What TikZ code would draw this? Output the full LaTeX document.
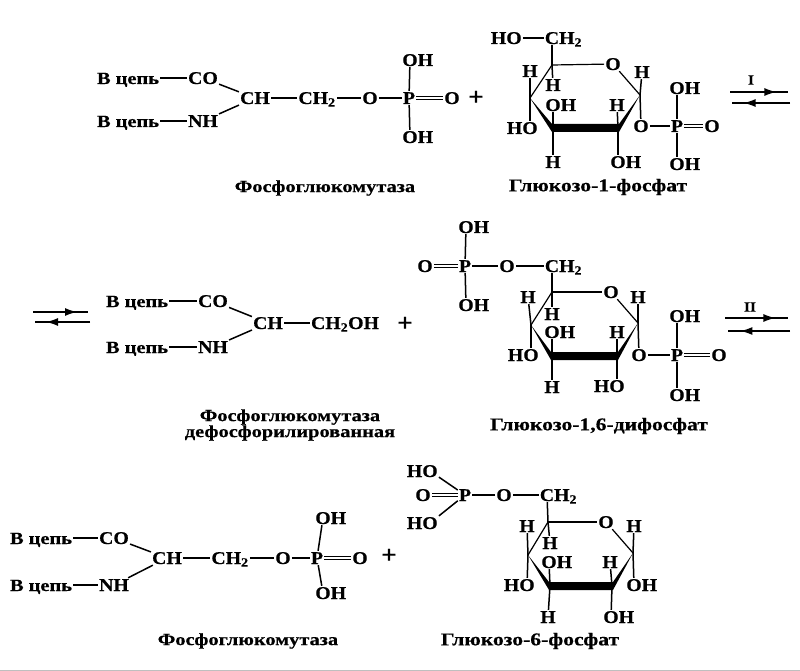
\documentclass[tikz,border=0pt]{standalone}
\usepackage{fontspec}
\setmainfont[BoldFeatures={FakeBold=0.5,FakeStretch=1.1}]{Liberation Serif}
\newfontfamily\labelfont[BoldFeatures={FakeBold=0.5,FakeStretch=1.2}]{Liberation Serif}
\usepackage{tikz}
\usetikzlibrary{calc,arrows.meta,decorations.markings}

\begin{document}
\begin{tikzpicture}[
			x=1pt, y=-1pt,
			atom/.style={font=\fontsize{18}{20}\selectfont\bfseries, inner sep=1pt, text height=12pt, text depth=0pt},
			chain/.style={font=\fontsize{17}{19}\labelfont\bfseries, inner sep=1pt, text height=12pt, text depth=0pt},
			caption/.style={font=\fontsize{17}{17}\labelfont\bfseries, inner sep=0pt, align=center},
			sugar name/.style={font=\fontsize{18}{18}\labelfont\bfseries, inner sep=0pt},
			sign/.style={font=\fontsize{25}{26}\selectfont\bfseries, inner sep=0pt},
			mark label/.style={font=\fontsize{14}{15}\selectfont\bfseries, inner sep=0pt},
			bond/.style={line width=1.5pt},
			dbond/.style={double, double distance=1.5pt, line width=1.1pt},
			ringbond/.style={line width=1.2pt},
			wedge/.style={fill=black},
			eqarrow/.style={line width=1.3pt, postaction={decorate},
				decoration={markings, mark=at position #1 with {\arrow{Latex[length=12pt,width=8pt]}}}},
		]
		\useasboundingbox (0,0) rectangle (800,671);
		\draw[gray!50] (0,670) -- (800,670);

		%Row 1 nodes
		\node[chain] (aS1) at (128,78) {В цепь};
		\node[chain] (aS2) at (128,121) {В цепь};
		\node[atom] (aCO) at (203,78) {CO};
		\node[atom] (aNH) at (203,121) {NH};
		\node[atom] (aCH) at (255,98) {CH};
		\node[atom] (aCH2) at (317,98) {CH\textsubscript{2}};
		\node[atom] (aO) at (370,98) {O};
		\node[atom] (aP) at (409,98) {P};
		\node[atom] (aO2) at (452,98) {O};
		\node[atom] (aOH1) at (410,60) {O\rlap{H}};
		\node[atom] (aOH2) at (410,137) {O\rlap{H}};
		\node[sign] (aplus) at (476,98) {+};
		\node[caption] (aname) at (325,188) {Фосфоглюкомутаза};

		\coordinate (r1) at (552,65);
		\coordinate (r2) at (640,95);
		\coordinate (r3) at (618,128);
		\coordinate (r4) at (553,128);
		\coordinate (r5) at (530,98);
		\node[atom] (rO) at (613,64) {O};
		\node[atom] (rC) at (552,38) {C\rlap{H\textsubscript{2}}};
		\node[atom] (rHO) at (514,38) {\llap{H}O};
		\node[atom] (rH1) at (530,71) {H};
		\node[atom] (rH2) at (553,85) {H};
		\node[atom] (rOH1) at (553,105) {O\rlap{H}};
		\node[atom] (rHO1) at (530,128) {\llap{H}O};
		\node[atom] (rH3) at (617,105) {H};
		\node[atom] (rH4) at (553,162) {H};
		\node[atom] (rOH2) at (618,162) {O\rlap{H}};
		\node[atom] (rH5) at (642,72) {H};
		\node[atom] (rO1) at (641,126) {O};
		\node[atom] (rP) at (677,126) {P};
		\node[atom] (rO2) at (712,126) {O};
		\node[atom] (rOH3) at (677,88) {O\rlap{H}};
		\node[atom] (rOH4) at (677,164) {O\rlap{H}};
		\node[sugar name] (rname) at (598,187) {Глюкозо-1-фосфат};

		\node[mark label] (eq1) at (751,80) {I};
		\coordinate (eq1a) at (730,92);
		\coordinate (eq1b) at (788,92);
		\coordinate (eq1c) at (790,103);
		\coordinate (eq1d) at (732,103);

		%Row 1 lines
		\draw[bond] (aS1) -- (aCO);
		\draw[bond] (aS2) -- (aNH);
		\draw[bond] (aCO) -- (aCH);
		\draw[bond] (aNH) -- (aCH);
		\draw[bond] (aCH) -- (aCH2);
		\draw[bond] (aCH2) -- (aO);
		\draw[bond] (aO) -- (aP);
		\draw[dbond] (aP) -- (aO2);
		\draw[bond] (aP) -- (aOH1);
		\draw[bond] (aP) -- (aOH2);

		\draw[ringbond] (r1) -- (rO);
		\draw[ringbond] (rO) -- (r2);
		\draw[ringbond] (r1) -- (r5);
		\fill[wedge] (r5) -- ($(r4)+(-1,4)$) -- ($(r3)+(1,4)$) -- (r2) -- ($(r3)+(1,-4)$) -- ($(r4)+(-1,-4)$) -- cycle;
		\draw[bond] (rHO) -- (rC);
		\draw[bond] (rC) -- (r1);
		\draw[bond] (r5) -- (rH1);
		\draw[bond] (r1) -- (rH2);
		\draw[bond] (r4) -- (rOH1);
		\draw[bond] (r5) -- (rHO1);
		\draw[bond] (r3) -- (rH3);
		\draw[bond] (r4) -- (rH4);
		\draw[bond] (r3) -- (rOH2);
		\draw[bond] (r2) -- (rH5);
		\draw[bond] (r2) -- (rO1);
		\draw[bond] (rO1) -- (rP);
		\draw[dbond] (rP) -- (rO2);
		\draw[bond] (rP) -- (rOH3);
		\draw[bond] (rP) -- (rOH4);
		\draw[eqarrow=.8] (eq1a) -- (eq1b);
		\draw[eqarrow=.8] (eq1c) -- (eq1d);

		%Row 2 nodes
		\coordinate (eq2a) at (33,312);
		\coordinate (eq2b) at (88,312);
		\coordinate (eq2c) at (90,322);
		\coordinate (eq2d) at (35,322);
		\node[chain] (bS1) at (137,301) {В цепь};
		\node[chain] (bS2) at (137,347) {В цепь};
		\node[atom] (bCO) at (213,301) {CO};
		\node[atom] (bNH) at (213,347) {NH};
		\node[atom] (bCH) at (268,323) {CH};
		\node[atom] (bOH) at (345,323) {CH\textsubscript{2}OH};
		\node[sign] (bplus) at (405,324) {+};
		\node[caption] (bname) at (290,425) {Фосфоглюкомутаза\\[-1pt]дефосфорилированная};

		\coordinate (s1) at (552,292);
		\coordinate (s2) at (638,323);
		\coordinate (s3) at (617,356);
		\coordinate (s4) at (552,356);
		\coordinate (s5) at (531,325);
		\node[atom] (sO) at (611,292) {O};
		\node[atom] (sC) at (552,266) {C\rlap{H\textsubscript{2}}};
		\node[atom] (sO3) at (507,266) {O};
		\node[atom] (sP) at (465,266) {P};
		\node[atom] (sO4) at (425,266) {O};
		\node[atom] (sOH5) at (466,227) {O\rlap{H}};
		\node[atom] (sOH6) at (466,305) {O\rlap{H}};
		\node[atom] (sH1) at (528,297) {H};
		\node[atom] (sH2) at (552,314) {H};
		\node[atom] (sOH1) at (552,332) {O\rlap{H}};
		\node[atom] (sHO1) at (531,355) {\llap{H}O};
		\node[atom] (sH3) at (617,332) {H};
		\node[atom] (sH4) at (552,387) {H};
		\node[atom] (sOH2) at (617,386) {\llap{H}O};
		\node[atom] (sH5) at (638,297) {H};
		\node[atom] (sO1) at (639,355) {O};
		\node[atom] (sP2) at (677,355) {P};
		\node[atom] (sO2) at (719,355) {O};
		\node[atom] (sOH3) at (677,316) {O\rlap{H}};
		\node[atom] (sOH4) at (677,395) {O\rlap{H}};
		\node[sugar name] (sname) at (599,426) {Глюкозо-1,6-дифосфат};

		\node[mark label] (eq3) at (750,307) {II};
		\coordinate (eq3a) at (725,318);
		\coordinate (eq3b) at (788,318);
		\coordinate (eq3c) at (790,331);
		\coordinate (eq3d) at (728,331);

		%Row 2 lines
		\draw[eqarrow=.8] (eq2a) -- (eq2b);
		\draw[eqarrow=.8] (eq2c) -- (eq2d);
		\draw[bond] (bS1) -- (bCO);
		\draw[bond] (bS2) -- (bNH);
		\draw[bond] (bCO) -- (bCH);
		\draw[bond] (bNH) -- (bCH);
		\draw[bond] (bCH) -- (bOH);

		\draw[ringbond] (s1) -- (sO);
		\draw[ringbond] (sO) -- (s2);
		\draw[ringbond] (s1) -- (s5);
		\fill[wedge] (s5) -- ($(s4)+(-1,4)$) -- ($(s3)+(1,4)$) -- (s2) -- ($(s3)+(1,-4)$) -- ($(s4)+(-1,-4)$) -- cycle;
		\draw[bond] (sC) -- (s1);
		\draw[bond] (sC) -- (sO3);
		\draw[bond] (sO3) -- (sP);
		\draw[dbond] (sP) -- (sO4);
		\draw[bond] (sP) -- (sOH5);
		\draw[bond] (sP) -- (sOH6);
		\draw[bond] (s5) -- (sH1);
		\draw[bond] (s1) -- (sH2);
		\draw[bond] (s4) -- (sOH1);
		\draw[bond] (s5) -- (sHO1);
		\draw[bond] (s3) -- (sH3);
		\draw[bond] (s4) -- (sH4);
		\draw[bond] (s3) -- (sOH2);
		\draw[bond] (s2) -- (sH5);
		\draw[bond] (s2) -- (sO1);
		\draw[bond] (sO1) -- (sP2);
		\draw[dbond] (sP2) -- (sO2);
		\draw[bond] (sP2) -- (sOH3);
		\draw[bond] (sP2) -- (sOH4);
		\draw[eqarrow=.8] (eq3a) -- (eq3b);
		\draw[eqarrow=.8] (eq3c) -- (eq3d);

		%Row 3 nodes
		\node[chain] (cS1) at (41,538) {В цепь};
		\node[chain] (cS2) at (41,585) {В цепь};
		\node[atom] (cCO) at (114,538) {CO};
		\node[atom] (cNH) at (114,585) {NH};
		\node[atom] (cCH) at (167,558) {CH};
		\node[atom] (cCH2) at (230,558) {CH\textsubscript{2}};
		\node[atom] (cO) at (283,558) {O};
		\node[atom] (cP) at (317,558) {P};
		\node[atom] (cO2) at (360,558) {O};
		\node[atom] (cOH1) at (323,518) {O\rlap{H}};
		\node[atom] (cOH2) at (323,593) {O\rlap{H}};
		\node[sign] (cplus) at (389,556) {+};
		\node[caption] (cname) at (248,641) {Фосфоглюкомутаза};

		\coordinate (t1) at (548,522);
		\coordinate (t2) at (633,553);
		\coordinate (t3) at (612,586);
		\coordinate (t4) at (550,586);
		\coordinate (t5) at (528,555);
		\node[atom] (tO) at (606,522) {O};
		\node[atom] (tC) at (547,495) {C\rlap{H\textsubscript{2}}};
		\node[atom] (tO3) at (504,495) {O};
		\node[atom] (tP) at (465,495) {P};
		\node[atom] (tO4) at (423,495) {O};
		\node[atom] (tHO1) at (430,471) {\llap{H}O};
		\node[atom] (tHO2) at (430,523) {\llap{H}O};
		\node[atom] (tH1) at (527,526) {H};
		\node[atom] (tH2) at (550,543) {H};
		\node[atom] (tOH1) at (549,562) {O\rlap{H}};
		\node[atom] (tHO3) at (527,585) {\llap{H}O};
		\node[atom] (tH3) at (610,562) {H};
		\node[atom] (tH4) at (548,617) {H};
		\node[atom] (tOH2) at (611,617) {O\rlap{H}};
		\node[atom] (tH5) at (634,526) {H};
		\node[atom] (tOH3) at (634,585) {O\rlap{H}};
		\node[sugar name] (tname) at (530,641) {Глюкозо-6-фосфат};

		%Row 3 lines
		\draw[bond] (cS1) -- (cCO);
		\draw[bond] (cS2) -- (cNH);
		\draw[bond] (cCO) -- (cCH);
		\draw[bond] (cNH) -- (cCH);
		\draw[bond] (cCH) -- (cCH2);
		\draw[bond] (cCH2) -- (cO);
		\draw[bond] (cO) -- (cP);
		\draw[dbond] (cP) -- (cO2);
		\draw[bond] (cP) -- (cOH1);
		\draw[bond] (cP) -- (cOH2);

		\draw[ringbond] (t1) -- (tO);
		\draw[ringbond] (tO) -- (t2);
		\draw[ringbond] (t1) -- (t5);
		\fill[wedge] (t5) -- ($(t4)+(-1,4)$) -- ($(t3)+(1,4)$) -- (t2) -- ($(t3)+(1,-4)$) -- ($(t4)+(-1,-4)$) -- cycle;
		\draw[bond] (tC) -- (t1);
		\draw[bond] (tC) -- (tO3);
		\draw[bond] (tO3) -- (tP);
		\draw[dbond] (tP) -- (tO4);
		\draw[bond] (tP) -- (tHO1);
		\draw[bond] (tP) -- (tHO2);
		\draw[bond] (t5) -- (tH1);
		\draw[bond] (t1) -- (tH2);
		\draw[bond] (t4) -- (tOH1);
		\draw[bond] (t5) -- (tHO3);
		\draw[bond] (t3) -- (tH3);
		\draw[bond] (t4) -- (tH4);
		\draw[bond] (t3) -- (tOH2);
		\draw[bond] (t2) -- (tH5);
		\draw[bond] (t2) -- (tOH3);

	\end{tikzpicture}
\end{document}
